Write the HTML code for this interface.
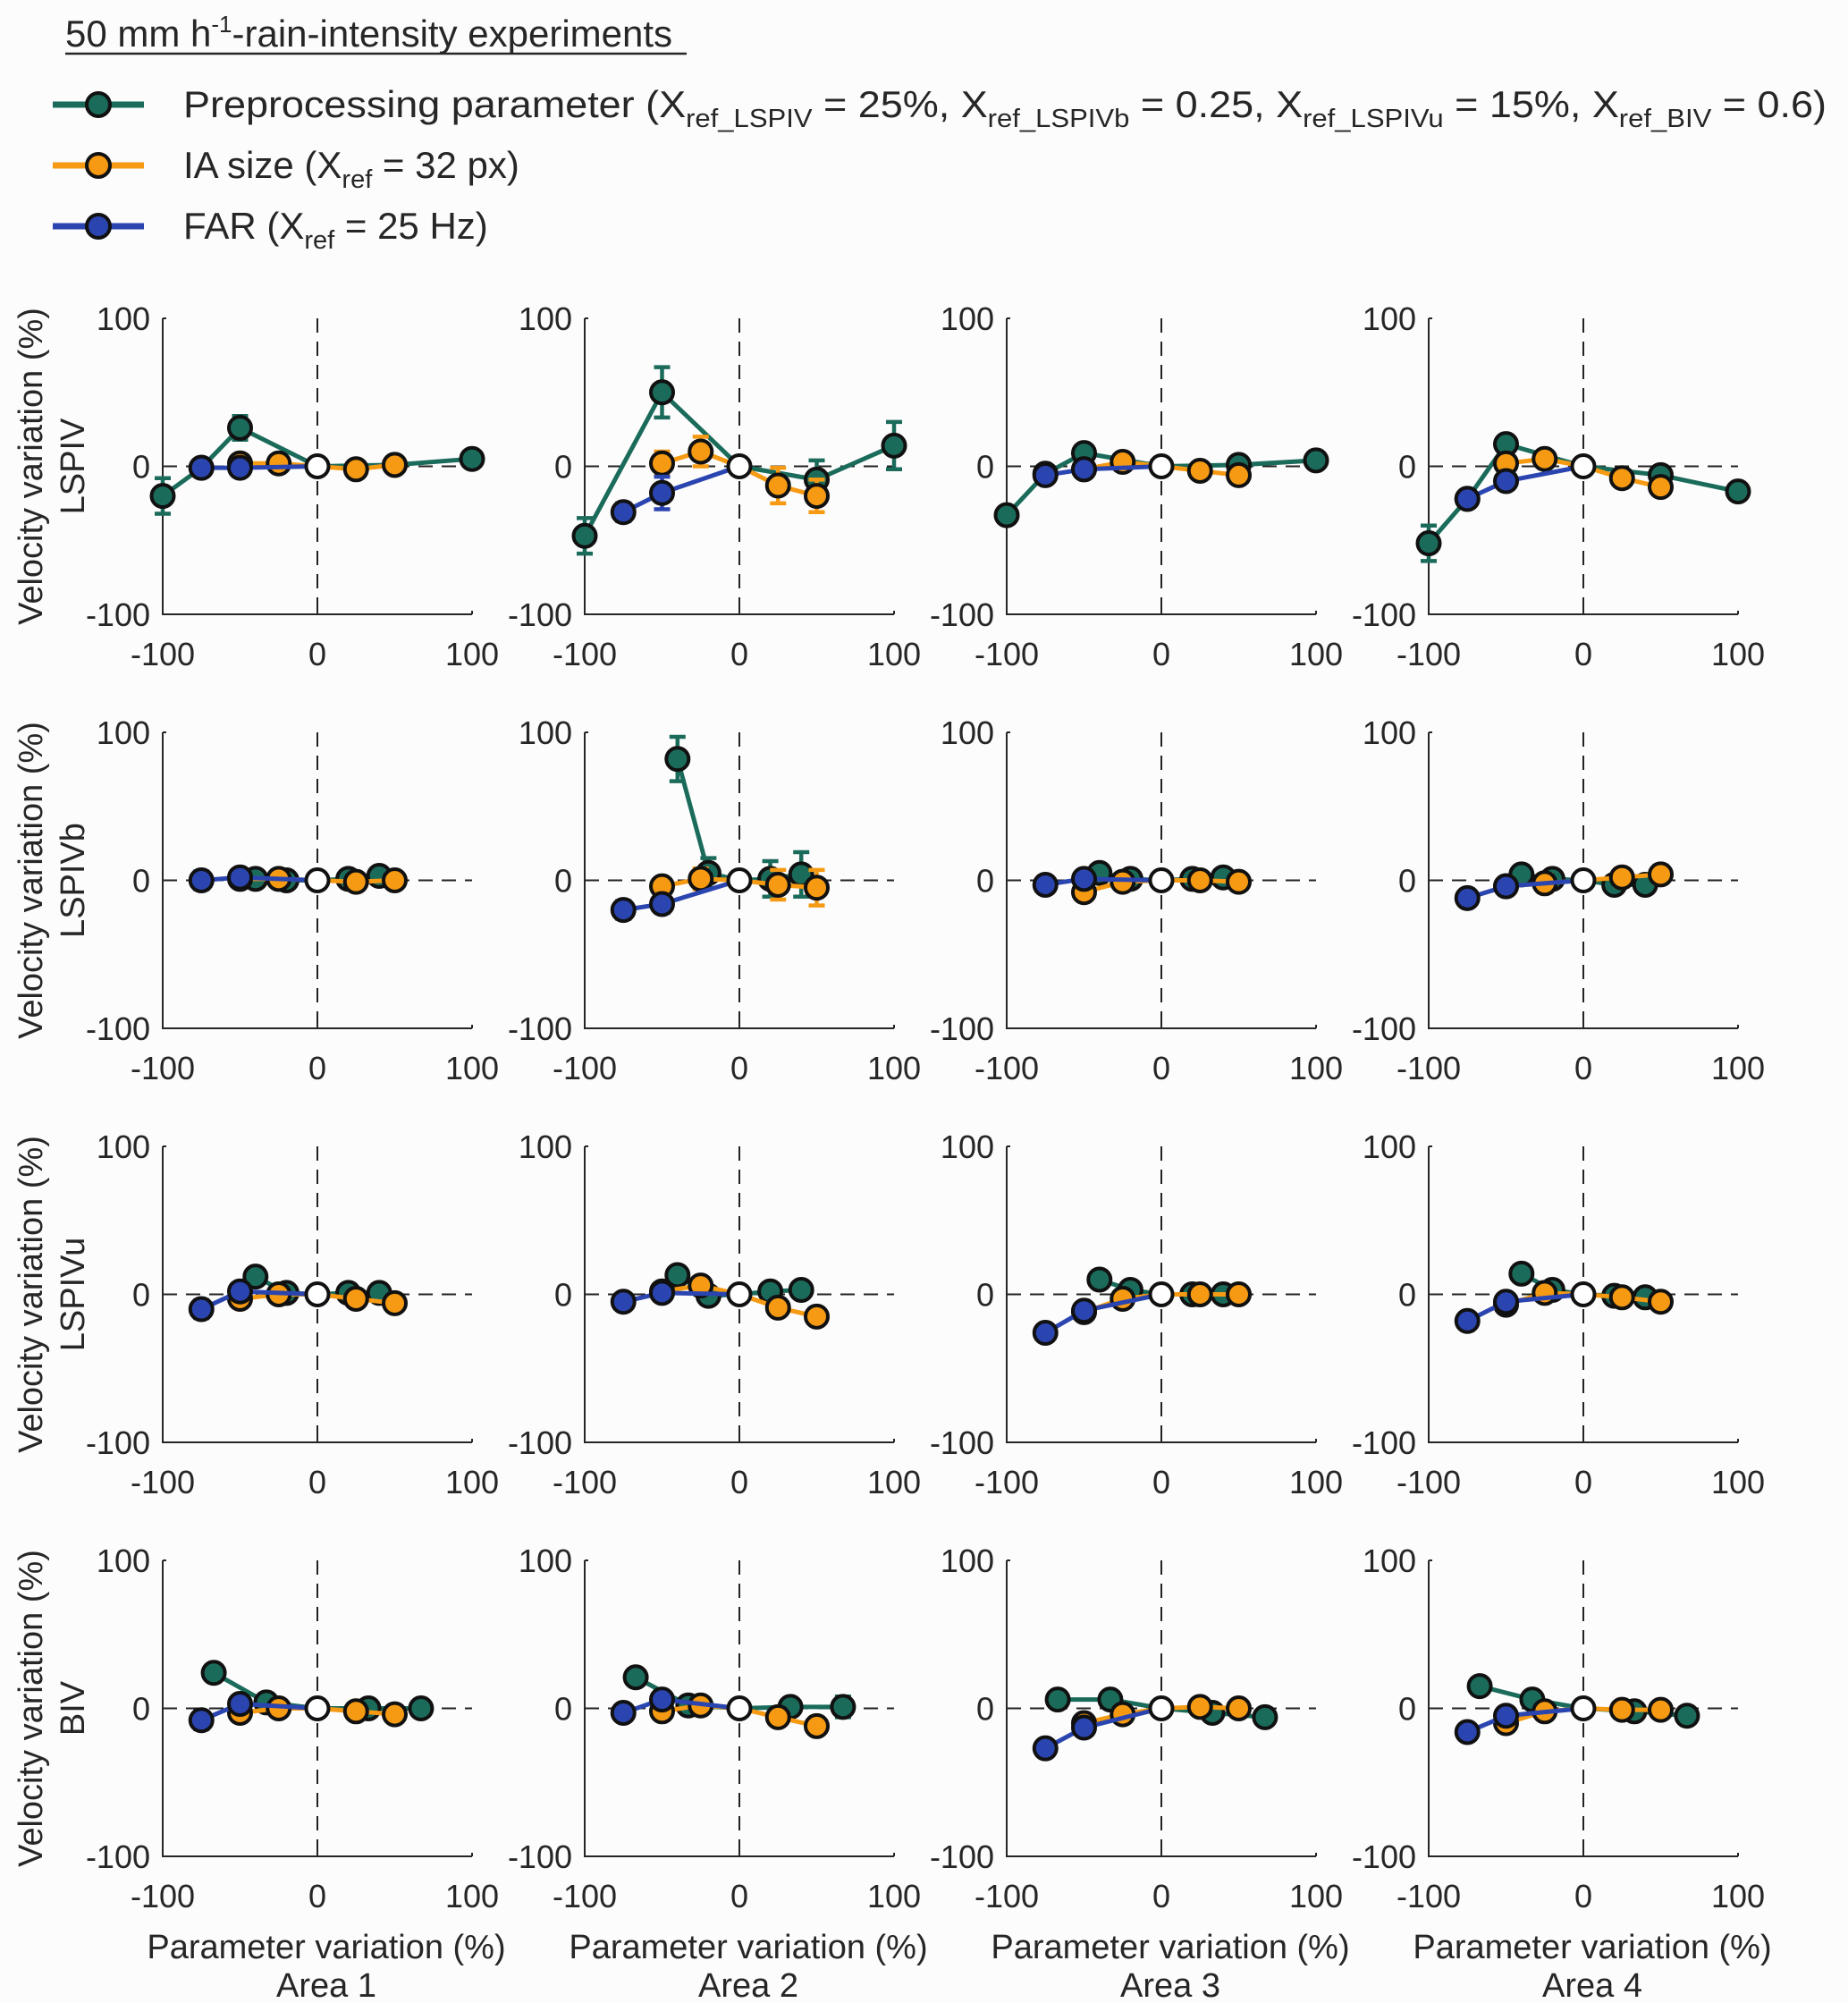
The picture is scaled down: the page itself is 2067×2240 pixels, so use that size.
<!DOCTYPE html>
<html><head><meta charset="utf-8"><style>
html,body{margin:0;padding:0;background:#fcfcfc;}
svg{display:block;font-family:"Liberation Sans",Arial,sans-serif;}
</style></head><body>
<svg id="fig" width="2067" height="2240" viewBox="0 0 2067 2240" xmlns="http://www.w3.org/2000/svg">
<rect x="0" y="0" width="2067" height="2240" fill="#fcfcfc"/>
<g>
 <text x="73" y="52" font-size="42" fill="#262626">50 mm h<tspan dy="-16" font-size="26">-1</tspan><tspan dy="16">-rain-intensity experiments</tspan></text>
 <line x1="73" y1="60" x2="768" y2="60" stroke="#262626" stroke-width="2.5"/>
 <g>
  <line x1="59" y1="117" x2="161" y2="117" stroke="#1b6b5b" stroke-width="7"/>
  <circle cx="110" cy="117" r="13" fill="#1b6b5b" stroke="#111" stroke-width="4"/>
  <text x="205" y="131" font-size="42" fill="#262626" textLength="1838" lengthAdjust="spacingAndGlyphs">Preprocessing parameter (X<tspan dy="11" font-size="29">ref_LSPIV</tspan><tspan dy="-11"> = 25%,  X</tspan><tspan dy="11" font-size="29">ref_LSPIVb</tspan><tspan dy="-11"> = 0.25,  X</tspan><tspan dy="11" font-size="29">ref_LSPIVu</tspan><tspan dy="-11"> = 15%,  X</tspan><tspan dy="11" font-size="29">ref_BIV</tspan><tspan dy="-11"> = 0.6)</tspan></text>
 </g>
 <g>
  <line x1="59" y1="185" x2="161" y2="185" stroke="#f59a12" stroke-width="7"/>
  <circle cx="110" cy="185" r="13" fill="#f59a12" stroke="#111" stroke-width="4"/>
  <text x="205" y="199" font-size="42" fill="#262626">IA size  (X<tspan dy="11" font-size="29">ref</tspan><tspan dy="-11"> = 32 px)</tspan></text>
 </g>
 <g>
  <line x1="59" y1="253" x2="161" y2="253" stroke="#2b45b0" stroke-width="7"/>
  <circle cx="110" cy="253" r="13" fill="#2b45b0" stroke="#111" stroke-width="4"/>
  <text x="205" y="267" font-size="42" fill="#262626">FAR (X<tspan dy="11" font-size="29">ref</tspan><tspan dy="-11"> = 25 Hz)</tspan></text>
 </g>
</g>
<g id="panels"></g>
</svg>
<script>
const rowNames = ["LSPIV","LSPIVb","LSPIVu","BIV"];
const areaNames = ["Area 1","Area 2","Area 3","Area 4"];
const xTicks = [-100,0,100];
const yTicks = [-100,0,100];
// green: preprocessing parameter
const greenX = [
 [[-100,-75,-50,0,50,100],[-100,-50,0,50,100],[-100,-75,-50,0,50,100],[-100,-75,-50,0,50,100]],
 [[-40,-20,0,20,40],[-40,-20,0,20,40],[-40,-20,0,20,40],[-40,-20,0,20,40]],
 [[-40,-20,0,20,40],[-40,-20,0,20,40],[-40,-20,0,20,40],[-40,-20,0,20,40]],
 [[-67,-33,0,33,67],[-67,-33,0,33,67],[-67,-33,0,33,67],[-67,-33,0,33,67]]
];
const greenY = [
 [[-20,-1,26,0,1,5],[-47,50,0,-9,14],[-33,-5,9,0,1,4],[-52,-22,15,0,-6,-17]],
 [[1,0,0,1,3],[82,5,0,1,4],[5,1,0,1,2],[4,1,0,-3,-3]],
 [[12,1,0,1,1],[13,-1,0,2,3],[10,3,0,0,0],[14,3,0,-1,-2]],
 [[24,4,0,0,0],[21,2,0,1,1],[6,6,0,-3,-6],[15,6,0,-2,-5]]
];
const greenErr = [
 [[12,2,8,0,3,3],[12,17,0,13,16],[3,3,3,0,3,3],[12,3,4,0,3,3]],
 [[3,3,0,3,3],[15,10,0,12,15],[3,3,0,3,3],[5,4,0,5,5]],
 [[4,3,0,3,3],[5,3,0,3,4],[3,3,0,3,3],[3,3,0,3,3]],
 [[3,3,0,3,5],[3,3,0,3,7],[3,3,0,3,4],[3,3,0,3,4]]
];
// orange: IA size
const orangeX = [-50,-25,0,25,50];
const orangeY = [
 [[2,2,0,-2,1],[2,10,0,-13,-20],[-2,3,0,-3,-6],[2,5,0,-8,-14]],
 [[1,1,0,-1,0],[-4,1,0,-3,-5],[-8,-1,0,0,-1],[-4,-2,0,2,4]],
 [[-3,0,0,-3,-6],[2,6,0,-9,-15],[-12,-3,0,0,0],[-7,1,0,-2,-5]],
 [[-3,0,0,-2,-4],[-2,2,0,-6,-12],[-10,-4,0,1,0],[-10,-2,0,-1,-1]]
];
const orangeErr = [
 [[3,3,0,3,3],[8,10,0,12,11],[3,3,0,3,4],[3,3,0,4,5]],
 [[3,3,0,3,3],[5,7,0,10,12],[3,3,0,3,3],[6,6,0,6,6]],
 [[3,3,0,3,3],[3,4,0,3,3],[3,3,0,3,3],[3,3,0,3,3]],
 [[3,3,0,3,3],[3,3,0,3,3],[3,3,0,3,3],[3,3,0,3,3]]
];
// blue: FAR
const blueX = [-75,-50,0];
const blueY = [
 [[-1,-1,0],[-31,-18,0],[-6,-2,0],[-22,-10,0]],
 [[0,2,0],[-20,-16,0],[-3,1,0],[-12,-4,0]],
 [[-10,2,0],[-5,1,0],[-26,-11,0],[-18,-5,0]],
 [[-8,3,0],[-3,6,0],[-27,-13,0],[-16,-5,0]]
];
const blueErr = [
 [[3,3,0],[6,11,13],[3,3,0],[3,3,0]],
 [[6,5,0],[6,6,12],[4,4,0],[4,4,0]],
 [[6,4,0],[4,3,0],[5,4,0],[3,3,0]],
 [[6,4,0],[5,4,0],[4,4,0],[3,3,0]]
];

const NS = "http://www.w3.org/2000/svg";
const colLeft = [182,654,1126,1598];
const rowTop = [356,819,1282,1745];
const PW = 346, PH = 331;
const C = {g:"#1b6b5b", o:"#f59a12", b:"#2b45b0"};
const root = document.getElementById("panels");
function mk(tag, attrs, parent){
  const e = document.createElementNS(NS, tag);
  for (const k in attrs) e.setAttribute(k, attrs[k]);
  parent.appendChild(e); return e;
}
for (let r=0;r<4;r++){
  const ylab = mk("text",{x:0,y:0,"font-size":38,fill:"#262626","text-anchor":"middle",transform:`translate(47,${rowTop[r]+PH/2}) rotate(-90)`},root);
  
  
  ylab.textContent = "Velocity variation (%)";
  const ylab2 = mk("text",{x:0,y:0,"font-size":38,fill:"#262626","text-anchor":"middle",transform:`translate(94,${rowTop[r]+PH/2}) rotate(-90)`},root);
  
  
  ylab2.textContent = rowNames[r];
  for (let c=0;c<4;c++){
    const L = colLeft[c], T = rowTop[r];
    const sx = v => L + (v+100)/200*PW;
    const sy = v => T + (100-v)/200*PH;
    const g = mk("g",{},root);
    
    
    mk("line",{x1:sx(0),y1:T,x2:sx(0),y2:T+PH,stroke:"#222","stroke-width":2,"stroke-dasharray":"16,10"},g);
    mk("line",{x1:L,y1:sy(0),x2:L+PW,y2:sy(0),stroke:"#222","stroke-width":2,"stroke-dasharray":"16,10"},g);
    const ax = mk("path",{d:`M${L},${T} V${T+PH} H${L+PW}`,fill:"none",stroke:"#262626","stroke-width":2},g);
    
    
    xTicks.forEach(t=>{
      mk("line",{x1:sx(t),y1:T+PH,x2:sx(t),y2:T+PH-4,stroke:"#262626","stroke-width":2},g);
      const tl = mk("text",{x:sx(t),y:T+PH+57,"font-size":36,fill:"#262626","text-anchor":"middle"},g);
      
      
      tl.textContent = t;
    });
    yTicks.forEach(t=>{
      mk("line",{x1:L,y1:sy(t),x2:L+4,y2:sy(t),stroke:"#262626","stroke-width":2},g);
      const tl = mk("text",{x:L-14,y:sy(t)+13,"font-size":36,fill:"#262626","text-anchor":"end"},g);
      
      
      tl.textContent = t;
    });
    const series = [
      {x:greenX[r][c], y:greenY[r][c], e:greenErr[r][c], col:C.g, n:"preprocessing"},
      {x:orangeX, y:orangeY[r][c], e:orangeErr[r][c], col:C.o, n:"ia-size"},
      {x:blueX, y:blueY[r][c], e:blueErr[r][c], col:C.b, n:"far"}
    ];
    series.forEach(s=>{
      const sg = mk("g",{},g);
      
      
      const pts = s.x.map((xv,i)=>sx(xv)+","+sy(s.y[i])).join(" ");
      mk("polyline",{points:pts,fill:"none",stroke:s.col,"stroke-width":5,"stroke-linejoin":"round"},sg);
      s.x.forEach((xv,i)=>{
        if (xv===0) return;
        const e = s.e[i];
        if (e>0){
          const X = sx(xv), y1 = sy(s.y[i]+e), y2 = sy(s.y[i]-e);
          mk("path",{d:`M${X},${y1} V${y2} M${X-9},${y1} H${X+9} M${X-9},${y2} H${X+9}`,stroke:s.col,"stroke-width":4.5,fill:"none"},sg);
        }
        const m = mk("circle",{cx:sx(xv),cy:sy(s.y[i]),r:12.5,fill:s.col,stroke:"#111","stroke-width":4},sg);
        
        
      });
    });
    const ref = mk("circle",{cx:sx(0),cy:sy(0),r:12.5,fill:"#fff",stroke:"#111","stroke-width":4},g);
    
    
    if (r===3){
      const xl = mk("text",{x:L+PW/2+10,y:2190,"font-size":38,fill:"#262626","text-anchor":"middle"},g);
      
      
      xl.textContent = "Parameter variation (%)";
      const al = mk("text",{x:L+PW/2+10,y:2233,"font-size":38,fill:"#262626","text-anchor":"middle"},g);
      
      
      al.textContent = areaNames[c];
    }
  }
}
</script>
</body></html>
